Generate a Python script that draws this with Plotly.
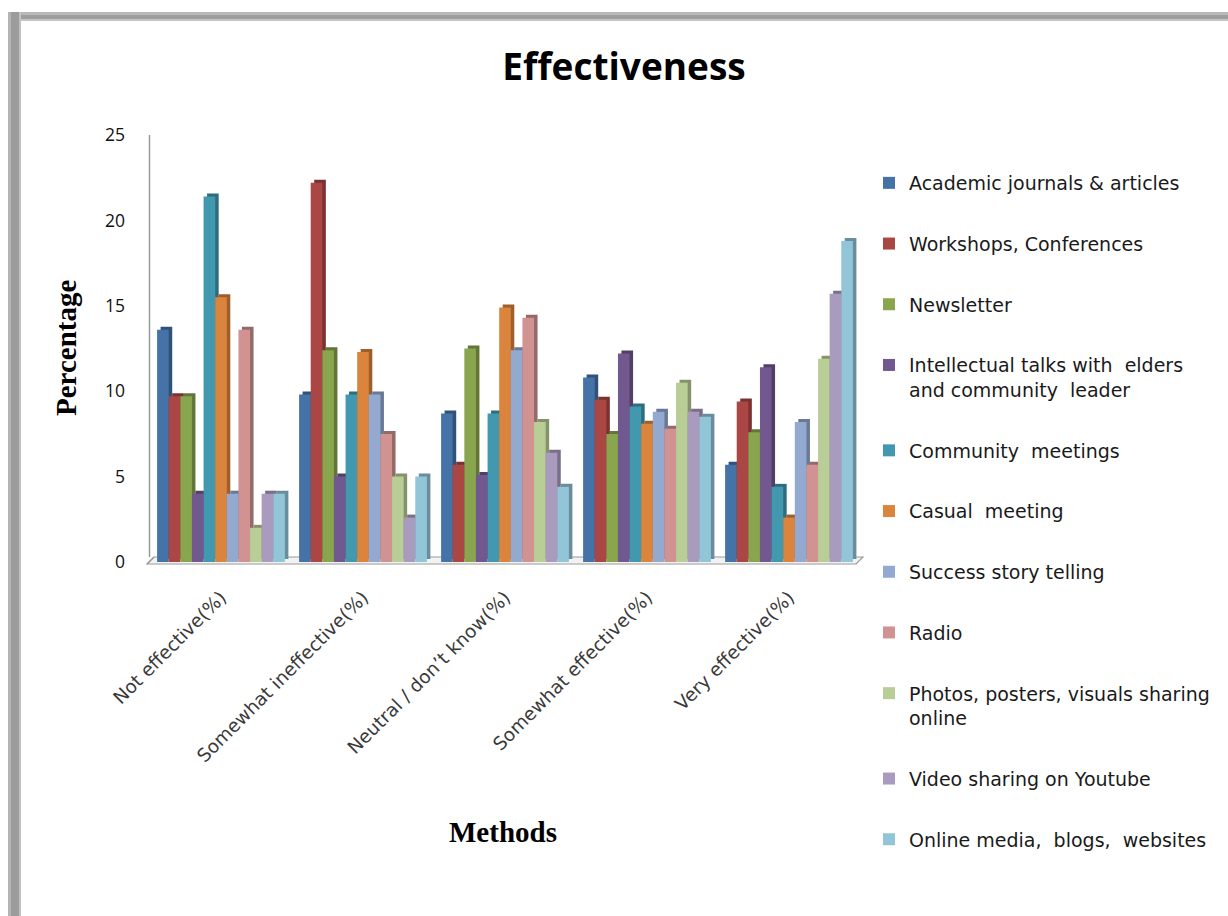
import plotly.graph_objects as go

# Response categories along the x axis
categories = [
    "Not effective(%)",
    "Somewhat ineffective(%)",
    "Neutral / don\u2019t know(%)",
    "Somewhat effective(%)",
    "Very effective(%)",
]

# Percentage of respondents per method, one value per category
academic_journals = [13.6, 9.8, 8.7, 10.8, 5.7]
workshops = [9.7, 22.2, 5.7, 9.5, 9.4]
newsletter = [9.7, 12.4, 12.5, 7.5, 7.6]
intellectual_talks = [4.0, 5.0, 5.1, 12.2, 11.4]
community_meetings = [21.4, 9.8, 8.7, 9.1, 4.4]
casual_meeting = [15.5, 12.3, 14.9, 8.1, 2.6]
success_stories = [4.0, 9.8, 12.4, 8.8, 8.2]
radio = [13.6, 7.5, 14.3, 7.8, 5.7]
photos_online = [2.0, 5.0, 8.2, 10.5, 11.9]
video_youtube = [4.0, 2.6, 6.4, 8.8, 15.7]
online_media = [4.0, 5.0, 4.4, 8.5, 18.8]

series_names = [
    "Academic journals & articles",
    "Workshops, Conferences",
    "Newsletter",
    "Intellectual talks with  elders<br>and community  leader",
    "Community  meetings",
    "Casual  meeting",
    "Success story telling",
    "Radio",
    "Photos, posters, visuals sharing<br>online",
    "Video sharing on Youtube",
    "Online media,  blogs,  websites",
]
series_values = [
    academic_journals, workshops, newsletter, intellectual_talks,
    community_meetings, casual_meeting, success_stories, radio,
    photos_online, video_youtube, online_media,
]
front_colors = [
    "#4572A7", "#AA4643", "#89A54E", "#71588F", "#4198AF", "#DB843D",
    "#93A9CF", "#D19392", "#B9CD96", "#A99BBD", "#92C5D7",
]


def shade(hex_color, f):
    r, g, b = (int(hex_color[i:i + 2], 16) for i in (1, 3, 5))
    return "#%02x%02x%02x" % (int(r * f), int(g * f), int(b * f))


# Figure geometry (pixels)
W, H = 1228, 916
PL, PR, PT, PB = 150, 860, 135, 562
pw, ph = PR - PL, PB - PT
YMAX = 25


def px_x(x):
    return (x - PL) / pw


def px_y(y):
    return (PB - y) / ph


n = len(series_names)
group_w = 0.9
bar_w = group_w / n
depth_x = 3.5 / (pw / len(categories))   # side-face depth in category units
depth_y = 3.0 / (ph / YMAX)              # top-face depth in value units

fig = go.Figure()

# Depth faces first so the next bar's front face overlaps them
for i, (name, vals, col) in enumerate(zip(series_names, series_values, front_colors)):
    fig.add_trace(go.Bar(
        x=categories, y=vals, base=depth_y,
        offset=-group_w / 2 + i * bar_w + depth_x, width=bar_w,
        marker=dict(color=shade(col, 0.72), line=dict(width=0)),
        showlegend=False, hoverinfo="skip", legendgroup=f"g{i}",
    ))
    fig.add_trace(go.Bar(
        x=categories, y=vals,
        offset=-group_w / 2 + i * bar_w, width=bar_w,
        marker=dict(color=col, line=dict(width=0)),
        name=name, legendgroup=f"g{i}",
    ))

shapes = []
# Chart frame shadow along the top and left edges
frame_top = [(12, 15, "#b9b9b9"), (15, 19, "#9e9e9e"), (19, 21, "#c4c4c4")]
for y0, y1, c in frame_top:
    shapes.append(dict(type="rect", xref="paper", yref="paper", layer="above",
                       x0=px_x(8), x1=px_x(W + 2), y0=px_y(y1), y1=px_y(y0),
                       fillcolor=c, line=dict(width=0)))
frame_left = [(8, 11, "#b4b4b4"), (11, 19, "#9c9c9c"), (19, 21, "#c2c2c2")]
for x0, x1, c in frame_left:
    shapes.append(dict(type="rect", xref="paper", yref="paper", layer="above",
                       x0=px_x(x0), x1=px_x(x1), y0=px_y(H + 2), y1=px_y(12),
                       fillcolor=c, line=dict(width=0)))
# 3D floor under the bars
floor = (f"M {px_x(147)},{px_y(564)} L {px_x(856)},{px_y(564)} "
         f"L {px_x(863)},{px_y(557)} L {px_x(154)},{px_y(557)} Z")
shapes.append(dict(type="path", xref="paper", yref="paper", layer="below",
                   path=floor, fillcolor="#f2f2f2", line=dict(color="#9a9a9a", width=1.2)))
# Back wall edge
shapes.append(dict(type="line", xref="paper", yref="paper", layer="below",
                   x0=px_x(149.5), x1=px_x(149.5), y0=px_y(557), y1=px_y(PT),
                   line=dict(color="#9a9a9a", width=1.5)))
shapes.append(dict(type="line", xref="paper", yref="paper", layer="below",
                   x0=px_x(147), x1=px_x(154), y0=px_y(564), y1=px_y(557),
                   line=dict(color="#9a9a9a", width=1.2)))

annotations = [
    dict(text="<b>Percentage</b>", xref="paper", yref="paper",
         x=px_x(66), y=px_y(348), textangle=-90, showarrow=False,
         font=dict(family="Liberation Serif", size=29, color="#000000"),
         xanchor="center", yanchor="middle"),
    dict(text="<b>Methods</b>", xref="paper", yref="paper",
         x=px_x(503), y=px_y(832), showarrow=False,
         font=dict(family="Liberation Serif", size=29, color="#000000"),
         xanchor="center", yanchor="middle"),
]

fig.update_layout(
    width=W, height=H,
    margin=dict(l=PL, r=W - PR, t=PT, b=H - PB, autoexpand=False),
    paper_bgcolor="#ffffff", plot_bgcolor="rgba(0,0,0,0)",
    barmode="overlay",
    title=dict(text="<b>Effectiveness</b>", x=624 / W, y=1 - 67 / H,
               xanchor="center", yanchor="middle",
               font=dict(family="Open Sans", size=37, color="#000000")),
    xaxis=dict(
        type="category", showgrid=False, showline=False, zeroline=False,
        tickangle=-45, ticks="", ticklabelstandoff=20,
        tickfont=dict(family="DejaVu Sans", size=18.5, color="#3a3a3a"),
        range=[-0.5, len(categories) - 0.5],
    ),
    yaxis=dict(
        range=[0, YMAX], dtick=5, showgrid=False, showline=False, zeroline=False,
        ticks="", ticklabelstandoff=24,
        tickfont=dict(family="Open Sans", size=17.5, color="#111111"),
    ),
    legend=dict(
        xref="paper", yref="container",
        x=px_x(869), y=1 - 164 / H, xanchor="left", yanchor="top",
        maxheight=1,
        traceorder="grouped", tracegroupgap=33, valign="top",
        font=dict(family="DejaVu Sans", size=19, color="#1a1a1a"),
        bgcolor="rgba(0,0,0,0)",
    ),
    shapes=shapes,
    annotations=annotations,
    showlegend=True,
)

fig.write_html("out.html")
